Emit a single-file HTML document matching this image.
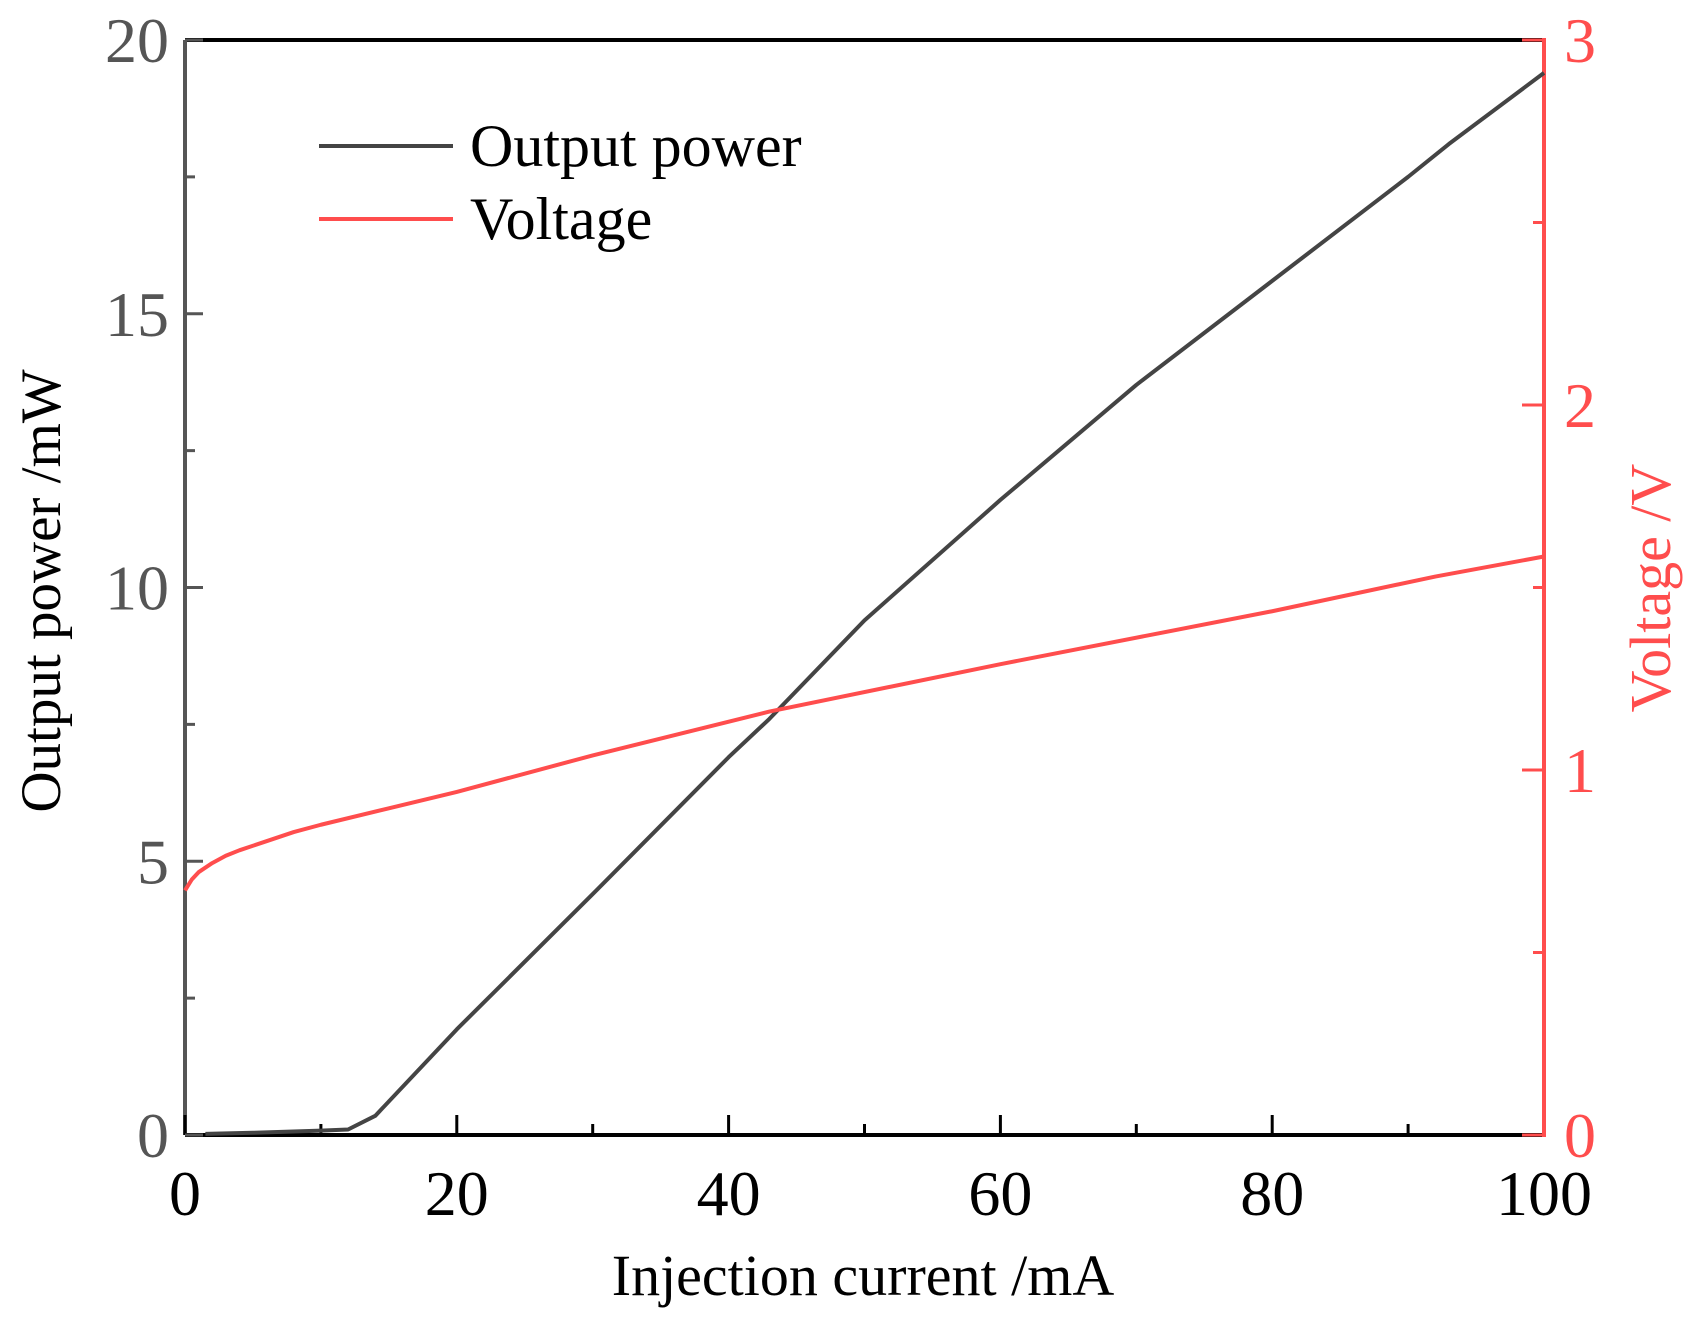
<!DOCTYPE html>
<html><head><meta charset="utf-8"><style>
html,body{margin:0;padding:0;background:#fff;}
svg{display:block;font-family:"Liberation Serif",serif;}
</style></head><body>
<svg id="chart" width="1688" height="1317" viewBox="0 0 1688 1317"></svg>
<script>
const xTicks=[0,20,40,60,80,100];
const xMinor=[10,30,50,70,90];
const pTicks=[0,5,10,15,20];
const pMinor=[2.5,7.5,12.5,17.5];
const vTicks=[0,1,2,3];
const vMinor=[0.5,1.5,2.5];
const powerX=[1.5,5,10,12,14,20,30,40,43,50,60,70,80,90,93,100];
const powerY=[0.02,0.04,0.08,0.1,0.35,1.93,4.4,6.9,7.6,9.4,11.6,13.7,15.6,17.5,18.1,19.4];
const voltX=[0,0.5,1,2,3,4,6,8,10,15,20,30,43,60,80,92,100];
const voltY=[0.67,0.7,0.72,0.745,0.765,0.78,0.805,0.83,0.85,0.895,0.94,1.04,1.16,1.29,1.435,1.53,1.585];

const L=185,R=1544,T=40,B=1135;
const RED='#ff4d4d';
const sx=v=>L+(R-L)*v/100;
const sp=v=>B-(B-T)*v/20;
const sv=v=>B-(B-T)*v/3;
const svg=document.getElementById('chart');
const NS='http://www.w3.org/2000/svg';
function mk(tag,attrs,parent){const e=document.createElementNS(NS,tag);for(const k in attrs)e.setAttribute(k,attrs[k]);(parent||svg).appendChild(e);return e;}

let e=mk('line',{x1:L,y1:T,x2:R,y2:T,stroke:'#000','stroke-width':4});


e=mk('line',{x1:L,y1:T,x2:L,y2:B,stroke:'#555','stroke-width':4});


e=mk('line',{x1:L,y1:B,x2:R,y2:B,stroke:'#000','stroke-width':4});



xTicks.forEach(v=>{
  let t=mk('line',{x1:sx(v),y1:B,x2:sx(v),y2:B-20,stroke:'#000','stroke-width':3});
  
  
  let l=mk('text',{x:sx(v),y:B+80,'font-size':64,'text-anchor':'middle',fill:'#000'});
  l.textContent=v;
  
  
});
xMinor.forEach(v=>{
  let t=mk('line',{x1:sx(v),y1:B,x2:sx(v),y2:B-11,stroke:'#000','stroke-width':3});
  
  
});
pTicks.forEach(v=>{
  let t=mk('line',{x1:L,y1:sp(v),x2:L+18,y2:sp(v),stroke:'#555','stroke-width':3});
  
  
  let l=mk('text',{x:L-16,y:sp(v)+22,'font-size':64,'text-anchor':'end',fill:'#555'});
  l.textContent=v;
  
  
});
pMinor.forEach(v=>{
  let t=mk('line',{x1:L,y1:sp(v),x2:L+10,y2:sp(v),stroke:'#555','stroke-width':3});
  
  
});
e=mk('line',{x1:R,y1:T-2,x2:R,y2:B+2,stroke:RED,'stroke-width':4});


vTicks.forEach(v=>{
  let t=mk('line',{x1:R,y1:sv(v),x2:R-22,y2:sv(v),stroke:RED,'stroke-width':3});
  
  
  let l=mk('text',{x:R+20,y:sv(v)+22,'font-size':64,fill:RED});
  l.textContent=v;
  
  
});
vMinor.forEach(v=>{
  let t=mk('line',{x1:R,y1:sv(v),x2:R-11,y2:sv(v),stroke:RED,'stroke-width':3});
  
  
});

let d=powerX.map((x,i)=>(i?'L':'M')+sx(x)+','+sp(powerY[i])).join('');
e=mk('path',{d:d,fill:'none',stroke:'#444','stroke-width':4,'stroke-linejoin':'round'});


d=voltX.map((x,i)=>(i?'L':'M')+sx(x)+','+sv(voltY[i])).join('');
e=mk('path',{d:d,fill:'none',stroke:RED,'stroke-width':4,'stroke-linejoin':'round'});



e=mk('text',{x:863,y:1295,'font-size':58,'text-anchor':'middle',fill:'#000'});
e.textContent='Injection current /mA';


e=mk('text',{x:0,y:0,'font-size':57,'text-anchor':'middle',fill:'#000',transform:'translate(60,591) rotate(-90)'});
e.textContent='Output power /mW';


e=mk('text',{x:0,y:0,'font-size':58,'text-anchor':'middle',fill:RED,transform:'translate(1670,588) rotate(-90)'});
e.textContent='Voltage /V';



e=mk('line',{x1:319,y1:146,x2:453,y2:146,stroke:'#444','stroke-width':4});


e=mk('text',{x:470,y:166,'font-size':60,fill:'#000'});
e.textContent='Output power';


e=mk('line',{x1:319,y1:219,x2:453,y2:219,stroke:RED,'stroke-width':4});


e=mk('text',{x:470,y:239,'font-size':60,fill:'#000'});
e.textContent='Voltage';


</script>
</body></html>
